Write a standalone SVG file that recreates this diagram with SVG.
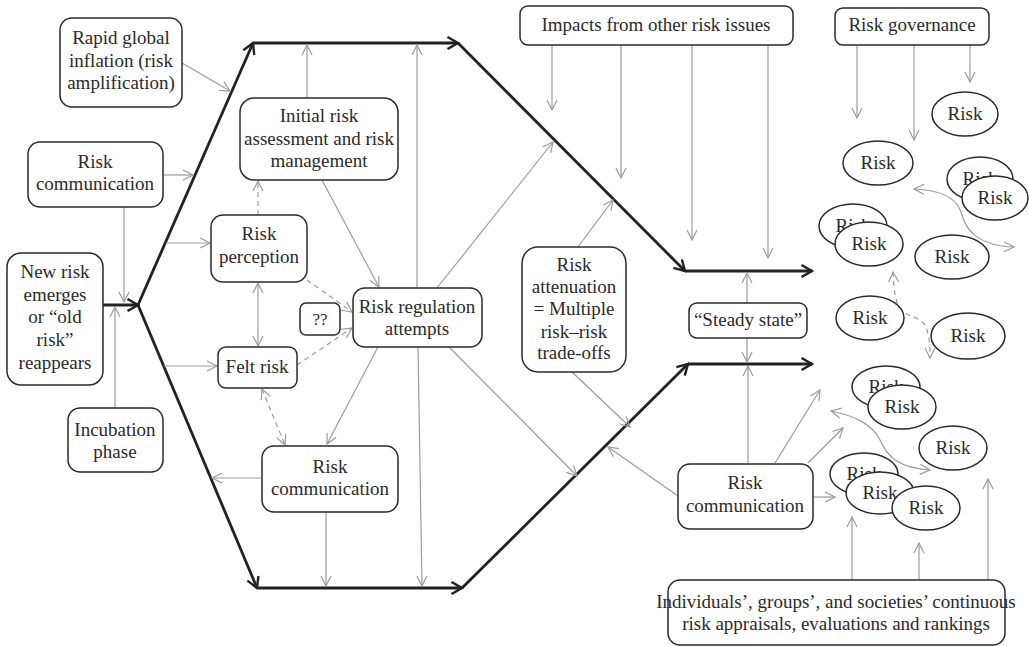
<svg xmlns="http://www.w3.org/2000/svg" width="1029" height="646" viewBox="0 0 1029 646" font-family="Liberation Serif, DejaVu Serif, serif">
<style>
.box{fill:#fff;stroke:#2a2a2a;stroke-width:1.5}
.ell{fill:#fff;stroke:#2a2a2a;stroke-width:1.5}
text{font-size:19px;fill:#2a2a2a;text-anchor:middle}
.thick{stroke:#222;stroke-width:2.8;fill:none;marker-end:url(#ab)}
.g{stroke:#9c9c9c;stroke-width:1.2;fill:none;marker-end:url(#ag)}
.g2{stroke:#9c9c9c;stroke-width:1.2;fill:none;marker-end:url(#ag);marker-start:url(#ag)}
.d{stroke:#9c9c9c;stroke-width:1.2;fill:none;stroke-dasharray:5,4;marker-end:url(#ag)}
.d2{stroke:#9c9c9c;stroke-width:1.2;fill:none;stroke-dasharray:5,4;marker-end:url(#ag);marker-start:url(#ag)}
</style>
<defs>
<marker id="ag" viewBox="0 0 12 12" markerWidth="12" markerHeight="12" refX="11" refY="6" orient="auto-start-reverse" markerUnits="userSpaceOnUse">
<path d="M1,1 L11,6 L1,11" fill="none" stroke="#9c9c9c" stroke-width="1.2"/>
</marker>
<marker id="ab" viewBox="0 0 14 14" markerWidth="14" markerHeight="14" refX="12.5" refY="7" orient="auto" markerUnits="userSpaceOnUse">
<path d="M2,1 L12.5,7 L2,13" fill="none" stroke="#222" stroke-width="2.4"/>
</marker>
</defs>
<rect width="1029" height="646" fill="#fff"/>
<g id="connectors">
<path class="thick" d="M103,305 L138,305"/>
<path class="thick" d="M138,305 L253,43"/>
<path class="thick" d="M253,43 L458,43"/>
<path class="thick" d="M458,43 L685,271"/>
<path class="thick" d="M685,271 L812,271"/>
<path class="thick" d="M138,305 L257,588"/>
<path class="thick" d="M257,588 L462,588"/>
<path class="thick" d="M462,588 L688,364"/>
<path class="thick" d="M688,364 L812,364"/>
<path class="g" d="M182,63 L230,91"/>
<path class="g" d="M163,175 L193,175"/>
<path class="g" d="M124,207 L124,302"/>
<path class="g" d="M115,408 L115,307"/>
<path class="g" d="M307,98 L307,45"/>
<path class="g" d="M166,243 L210,243"/>
<path class="d" d="M258,215 L258,181"/>
<path class="g" d="M322,180 L379,287"/>
<path class="g2" d="M258,283 L258,346"/>
<path class="g" d="M164,366 L217,366"/>
<path class="d" d="M307,280 L352,312"/>
<path class="d" d="M297,365 L352,328"/>
<path class="d2" d="M262,389 L285,445"/>
<path class="g" d="M417,288 L417,45"/>
<path class="g" d="M437,288 L553,142"/>
<path class="g" d="M418,347 L422,586"/>
<path class="g" d="M449,347 L577,476"/>
<path class="g" d="M378,347 L327,444"/>
<path class="g" d="M262,478 L212,478"/>
<path class="g" d="M326,512 L326,586"/>
<path class="g" d="M552,45 L552,110"/>
<path class="g" d="M621,45 L621,178"/>
<path class="g" d="M692,45 L692,240"/>
<path class="g" d="M768,45 L768,258"/>
<path class="g" d="M578,247 L613,200"/>
<path class="g" d="M572,372 L630,427"/>
<path class="g" d="M747,303 L747,273"/>
<path class="g" d="M747,338 L747,362"/>
<path class="g" d="M748,463 L748,366"/>
<path class="g" d="M775,463 L820,390"/>
<path class="g" d="M808,463 L843,428"/>
<path class="g" d="M678,496 L608,447"/>
<path class="g" d="M813,497 L835,497"/>
<path class="g" d="M852,580 L852,517"/>
<path class="g" d="M919,580 L919,543"/>
<path class="g" d="M988,580 L988,479"/>
<path class="g" d="M857,45 L857,118"/>
<path class="g" d="M914,45 L914,140"/>
<path class="g" d="M970,45 L970,82"/>
<path class="g2" d="M914,189 C945,190 957,200 961,212 C966,232 980,246 1014,247"/>
<path class="g2" d="M831,411 C855,416 872,424 880,440 C888,458 900,468 930,470"/>
<path class="d2" d="M893,272 C894,290 895,305 903,312 C912,318 924,318 927,330 C930,340 930,350 930,358"/>
</g>
<g id="rapid"><rect class="box" x="60" y="18" width="122" height="89" rx="12"/><text x="121" y="44">Rapid global</text><text x="121" y="67">inflation (risk</text><text x="121" y="89">amplification)</text></g>
<g id="riskcomm1"><rect class="box" x="28" y="142" width="135" height="65" rx="12"/><text x="95" y="168">Risk</text><text x="95" y="190">communication</text></g>
<g id="newrisk"><rect class="box" x="7" y="253" width="96" height="132" rx="14"/><text x="55" y="278">New risk</text><text x="55" y="301">emerges</text><text x="55" y="323">or “old</text><text x="55" y="346">risk”</text><text x="55" y="369">reappears</text></g>
<g id="incubation"><rect class="box" x="68" y="408" width="95" height="64" rx="12"/><text x="115" y="436">Incubation</text><text x="115" y="458">phase</text></g>
<g id="initial"><rect class="box" x="240" y="98" width="158" height="82" rx="14"/><text x="319" y="122">Initial risk</text><text x="319" y="145">assessment and risk</text><text x="319" y="167">management</text></g>
<g id="perception"><rect class="box" x="211" y="215" width="96" height="67" rx="12"/><text x="259" y="240">Risk</text><text x="259" y="263">perception</text></g>
<g id="qq"><rect class="box" x="300" y="303" width="40" height="32" rx="6"/><text x="320" y="325" style="font-size:17px">??</text></g>
<g id="felt"><rect class="box" x="218" y="347" width="79" height="41" rx="8"/><text x="257" y="373">Felt risk</text></g>
<g id="regulation"><rect class="box" x="353" y="288" width="129" height="59" rx="12"/><text x="417" y="313">Risk regulation</text><text x="417" y="335">attempts</text></g>
<g id="riskcomm2"><rect class="box" x="262" y="446" width="136" height="66" rx="12"/><text x="330" y="473">Risk</text><text x="330" y="495">communication</text></g>
<g id="impacts"><rect class="box" x="520" y="6" width="273" height="39" rx="8"/><text x="656" y="31">Impacts from other risk issues</text></g>
<g id="attenuation"><rect class="box" x="522" y="247" width="104" height="125" rx="16"/><text x="574" y="271">Risk</text><text x="574" y="293">attenuation</text><text x="574" y="315">= Multiple</text><text x="574" y="338">risk–risk</text><text x="574" y="359">trade-offs</text></g>
<g id="steady"><rect class="box" x="689" y="303" width="118" height="35" rx="8"/><text x="748" y="326">“Steady state”</text></g>
<g id="riskcomm3"><rect class="box" x="678" y="464" width="135" height="65" rx="12"/><text x="745" y="489">Risk</text><text x="745" y="512">communication</text></g>
<g id="governance"><rect class="box" x="835" y="8" width="154" height="37" rx="8"/><text x="912" y="31">Risk governance</text></g>
<g id="individuals"><rect class="box" x="668" y="580" width="337" height="65" rx="12"/><text x="836" y="608">Individuals’, groups’, and societies’ continuous</text><text x="836" y="630">risk appraisals, evaluations and rankings</text></g>
<g id="risk1"><ellipse class="ell" cx="965" cy="114" rx="33" ry="22"/><text x="965" y="120">Risk</text></g>
<g id="risk2"><ellipse class="ell" cx="878" cy="163" rx="35" ry="22"/><text x="878" y="169">Risk</text></g>
<g id="risk3"><ellipse class="ell" cx="980" cy="179" rx="33" ry="22"/><text x="980" y="185">Risk</text><ellipse class="ell" cx="995" cy="198" rx="33" ry="22"/><text x="995" y="204">Risk</text></g>
<g id="risk4"><ellipse class="ell" cx="853" cy="226" rx="34" ry="22"/><text x="853" y="232">Risk</text><ellipse class="ell" cx="869" cy="244" rx="34" ry="22"/><text x="869" y="250">Risk</text></g>
<g id="risk5"><ellipse class="ell" cx="952" cy="257" rx="37" ry="22"/><text x="952" y="263">Risk</text></g>
<g id="risk6"><ellipse class="ell" cx="870" cy="318" rx="34" ry="22"/><text x="870" y="324">Risk</text></g>
<g id="risk7"><ellipse class="ell" cx="968" cy="336" rx="37" ry="23"/><text x="968" y="342">Risk</text></g>
<g id="risk8"><ellipse class="ell" cx="886" cy="387" rx="34" ry="21"/><text x="886" y="393">Risk</text><ellipse class="ell" cx="902" cy="407" rx="34" ry="22"/><text x="902" y="413">Risk</text></g>
<g id="risk9"><ellipse class="ell" cx="953" cy="448" rx="34" ry="22"/><text x="953" y="454">Risk</text></g>
<g id="risk10"><ellipse class="ell" cx="864" cy="474" rx="34" ry="21"/><text x="864" y="480">Risk</text><ellipse class="ell" cx="880" cy="493" rx="34" ry="21"/><text x="880" y="499">Risk</text><ellipse class="ell" cx="926" cy="508" rx="34" ry="22"/><text x="926" y="514">Risk</text></g>
</svg>
